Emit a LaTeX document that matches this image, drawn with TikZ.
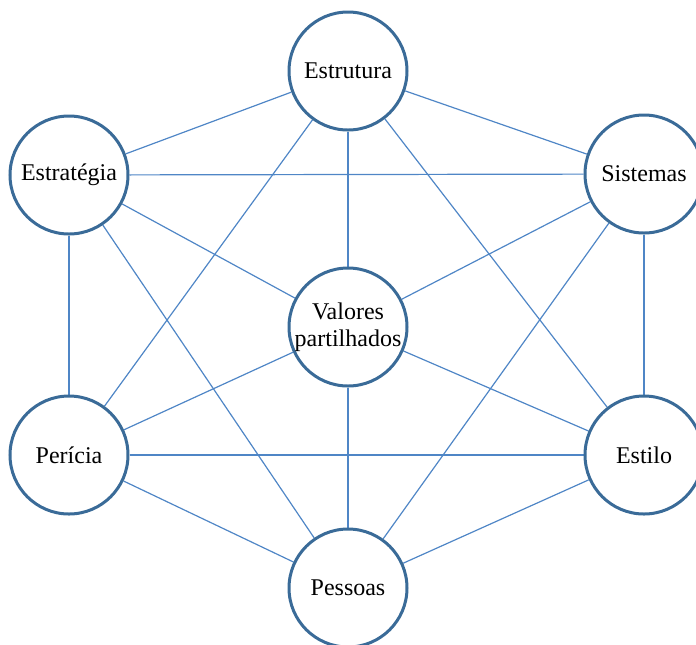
\documentclass[tikz,border=0pt]{standalone}
\usepackage{fontspec}
\setmainfont{Liberation Serif}
\usepackage{tikz}
\usetikzlibrary{backgrounds}

\definecolor{ringblue}{HTML}{3A6B98}
\definecolor{linkblue}{HTML}{4F86C6}

\tikzset{
    sfactor/.style={circle, draw=ringblue, line width=1.5pt, fill=white,
        minimum size=59pt, inner sep=0pt, align=center,
        font=\fontsize{12}{13.5}\selectfont},
    link/.style={draw=linkblue, line width=0.6pt},
}

\begin{document}
\begin{tikzpicture}[x=0.5pt, y=-0.5pt]
    \useasboundingbox (0, 0) rectangle (696, 644);
    \node[sfactor] (estrutura)  at (348, 71)  {Estrutura};
    \node[sfactor] (estrategia) at (69, 175)  {Estratégia};
    \node[sfactor] (sistemas)   at (644, 174) {Sistemas};
    \node[sfactor] (valores)    at (348, 327) {Valores\\partilhados};
    \node[sfactor] (pericia)    at (69, 455)  {Perícia};
    \node[sfactor] (estilo)     at (644, 455) {Estilo};
    \node[sfactor] (pessoas)    at (348, 588) {Pessoas};
    % links behind the circles
    \begin{scope}[on background layer]
        \foreach \a/\b in {estrutura/estrategia, estrutura/sistemas, estrategia/pericia,
                           sistemas/estilo, pericia/pessoas, estilo/pessoas,
                           estrutura/pericia, estrutura/estilo, estrategia/sistemas,
                           estrategia/pessoas, sistemas/pessoas, pericia/estilo,
                           valores/estrutura, valores/estrategia, valores/sistemas,
                           valores/pericia, valores/estilo, valores/pessoas}
            \draw[link] (\a) -- (\b);
    \end{scope}
\end{tikzpicture}
\end{document}
